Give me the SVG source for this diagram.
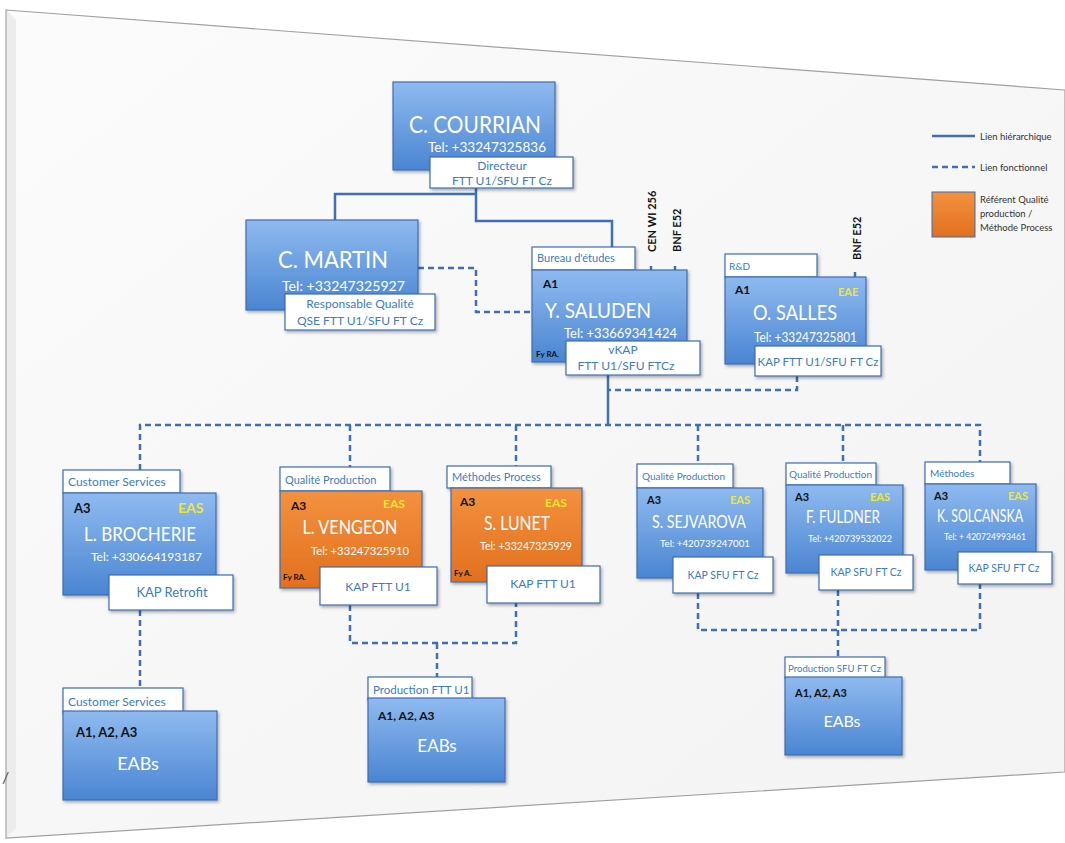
<svg xmlns="http://www.w3.org/2000/svg" width="1065" height="843" viewBox="0 0 1065 843">
<defs>
<linearGradient id="gBlue" x1="0" y1="0" x2="0" y2="1">
<stop offset="0" stop-color="#8fbaf0"/><stop offset="1" stop-color="#4a85d2"/>
</linearGradient>
<linearGradient id="gOrange" x1="0" y1="0" x2="0" y2="1">
<stop offset="0" stop-color="#f3913f"/><stop offset="1" stop-color="#e2701e"/>
</linearGradient>
<linearGradient id="gSlide" x1="0" y1="0" x2="1" y2="1">
<stop offset="0" stop-color="#fbfbfb"/><stop offset="1" stop-color="#f3f3f3"/>
</linearGradient>
<filter id="sh" x="-10%" y="-10%" width="125%" height="130%">
<feDropShadow dx="1.5" dy="2" stdDeviation="1.5" flood-color="#000" flood-opacity="0.3"/>
</filter>
<style>
text{font-family:Lato,"Open Sans","Liberation Sans",sans-serif}
.b{fill:url(#gBlue);stroke:#3d6db3;stroke-width:1.2;filter:url(#sh)}
.o{fill:url(#gOrange);stroke:#3d6db3;stroke-width:1.2;filter:url(#sh)}
.w{fill:#fff;stroke:#3d6db3;stroke-width:1.2;filter:url(#sh)}
.lbl{fill:#3b7cc4}
.nm{fill:#fff;text-anchor:middle}
.tel{fill:#fff}
.sub{fill:#3b7cc4;text-anchor:middle}
.lv{fill:#111;font-weight:bold}
.eas{fill:#f3e62c;font-weight:bold}
.rot{fill:#111;font-weight:bold;font-size:11px}
.solid{fill:none;stroke:#3e6fb8;stroke-width:2.5}
.dash{fill:none;stroke:#3e6fb8;stroke-width:2.5;stroke-dasharray:6 4}
.leg{fill:#333;font-size:9.5px}
</style>
</defs>
<rect width="1065" height="843" fill="#fff"/>
<polygon points="6,10 1065,90 1065,772 6,838" fill="url(#gSlide)" stroke="#a0a0a0" stroke-width="1.2"/>
<polygon points="7,11 16,20 16,828 7,837" fill="#ececec"/>
<text x="2" y="783" font-size="16" fill="#555">/</text>

<g id="connectors">
<path class="solid" d="M335,220 V194 H476"/>
<path class="solid" d="M476,188 V221 H612 V247"/>
<path class="solid" d="M608,375 V425"/>
<path class="solid" d="M651,266 V271 M675,266 V271 M855,272 V278"/>
<path class="dash" d="M418,268 H476 V312 H532"/>
<path class="dash" d="M797,376 V390 H608"/>
<path class="dash" d="M140,470 V425 H980 V463"/>
<path class="dash" d="M350,425 V467 M516,425 V466 M698,425 V464 M843,425 V464"/>
<path class="dash" d="M140,610 V688"/>
<path class="dash" d="M350,605 V643 H516 V603 M437,643 V677"/>
<path class="dash" d="M698,593 V630 H980 V584 M838,590 V657"/>
</g>

<g id="legend">
<line x1="932" y1="136" x2="975" y2="136" class="solid" stroke-width="2"/>
<text class="leg" x="980" y="140">Lien hiérarchique</text>
<line x1="932" y1="167" x2="975" y2="167" class="dash" stroke-width="2"/>
<text class="leg" x="980" y="171">Lien fonctionnel</text>
<rect x="932" y="192" width="43" height="45" fill="url(#gOrange)" stroke="#3d6db3" stroke-width="1"/>
<text class="leg" x="980" y="203" font-size="9">Référent Qualité</text>
<text class="leg" x="980" y="217" font-size="9">production /</text>
<text class="leg" x="980" y="231" font-size="9">Méthode Process</text>
</g>

<g id="courrian">
<rect class="b" x="393" y="82" width="162" height="88"/>
<text class="nm" x="475" y="133" font-size="24" textLength="132" lengthAdjust="spacingAndGlyphs">C. COURRIAN</text>
<text class="tel" x="428" y="152" font-size="14" textLength="118" lengthAdjust="spacingAndGlyphs">Tel: +33247325836</text>
<rect class="w" x="430" y="157" width="143" height="31"/>
<text class="sub" x="502" y="170" font-size="12">Directeur</text>
<text class="sub" x="502" y="185" font-size="12">FTT U1/SFU FT Cz</text>
</g>

<g id="martin">
<rect class="b" x="246" y="220" width="172" height="90"/>
<text class="nm" x="333" y="268" font-size="24" textLength="110" lengthAdjust="spacingAndGlyphs">C. MARTIN</text>
<text class="tel" x="282" y="291" font-size="14" textLength="123" lengthAdjust="spacingAndGlyphs">Tel: +33247325927</text>
<rect class="w" x="285" y="294" width="150" height="36"/>
<text class="sub" x="360" y="308" font-size="12">Responsable Qualité</text>
<text class="sub" x="360" y="325" font-size="12">QSE FTT U1/SFU FT Cz</text>
</g>

<g id="saluden">
<rect class="w" x="532" y="247" width="103" height="23"/>
<text class="lbl" x="537" y="262" font-size="11">Bureau d'études</text>
<rect class="b" x="532" y="270" width="155" height="92"/>
<text class="lv" x="543" y="288" font-size="12">A1</text>
<text class="nm" x="598" y="318" font-size="22" textLength="106" lengthAdjust="spacingAndGlyphs">Y. SALUDEN</text>
<text class="tel" x="564" y="338" font-size="13" textLength="113" lengthAdjust="spacingAndGlyphs">Tel: +33669341424</text>
<text class="lv" x="536" y="357" font-size="8">Fy RA.</text>
<rect class="w" x="566" y="341" width="134" height="34"/>
<text class="sub" x="623" y="354" font-size="12">vKAP</text>
<text class="sub" x="626" y="370" font-size="12">FTT U1/SFU FTCz</text>
<text class="rot" transform="translate(656,252) rotate(-90)">CEN WI 256</text>
<text class="rot" transform="translate(681,252) rotate(-90)">BNF E52</text>
</g>

<g id="salles">
<rect class="w" x="725" y="254" width="92" height="23"/>
<text class="lbl" x="729" y="270" font-size="10">R&amp;D</text>
<rect class="b" x="725" y="277" width="141" height="87"/>
<text class="lv" x="735" y="294" font-size="12">A1</text>
<text class="eas" x="838" y="296" font-size="11">EAE</text>
<text class="nm" x="795" y="320" font-size="22" textLength="84" lengthAdjust="spacingAndGlyphs">O. SALLES</text>
<text class="tel" x="754" y="342" font-size="13" textLength="103" lengthAdjust="spacingAndGlyphs">Tel: +33247325801</text>
<rect class="w" x="755" y="346" width="126" height="30"/>
<text class="sub" x="818" y="366" font-size="11.5">KAP FTT U1/SFU FT Cz</text>
<text class="rot" transform="translate(861,260) rotate(-90)">BNF E52</text>
</g>

<g id="brocherie">
<rect class="w" x="63" y="470" width="117" height="23"/>
<text class="lbl" x="68" y="486" font-size="12">Customer Services</text>
<rect class="b" x="63" y="493" width="153" height="102"/>
<text class="lv" x="74" y="513" font-size="13">A3</text>
<text class="eas" x="178" y="513" font-size="14">EAS</text>
<text class="nm" x="140" y="541" font-size="20" textLength="112" lengthAdjust="spacingAndGlyphs">L. BROCHERIE</text>
<text class="tel" x="91" y="561" font-size="12" textLength="111" lengthAdjust="spacingAndGlyphs">Tel: +330664193187</text>
<rect class="w" x="109" y="575" width="124" height="35"/>
<text class="sub" x="172" y="597" font-size="13">KAP Retrofit</text>
</g>

<g id="vengeon">
<rect class="w" x="280" y="467" width="110" height="24"/>
<text class="lbl" x="285" y="484" font-size="11">Qualité Production</text>
<rect class="o" x="280" y="491" width="142" height="97"/>
<text class="lv" x="291" y="510" font-size="12">A3</text>
<text class="eas" x="383" y="508" font-size="12">EAS</text>
<text class="nm" x="350" y="534" font-size="20" textLength="95" lengthAdjust="spacingAndGlyphs">L. VENGEON</text>
<text class="tel" x="311" y="555" font-size="11" textLength="98" lengthAdjust="spacingAndGlyphs">Tel: +33247325910</text>
<text class="lv" x="283" y="580" font-size="8">Fy RA.</text>
<rect class="w" x="320" y="567" width="117" height="38"/>
<text class="sub" x="378" y="591" font-size="12">KAP FTT U1</text>
</g>

<g id="lunet">
<rect class="w" x="447" y="466" width="104" height="22"/>
<text class="lbl" x="452" y="481" font-size="11">Méthodes Process</text>
<rect class="o" x="451" y="488" width="131" height="94"/>
<text class="lv" x="460" y="506" font-size="12">A3</text>
<text class="eas" x="545" y="507" font-size="12">EAS</text>
<text class="nm" x="517" y="530" font-size="20" textLength="66" lengthAdjust="spacingAndGlyphs">S. LUNET</text>
<text class="tel" x="480" y="550" font-size="11" textLength="92" lengthAdjust="spacingAndGlyphs">Tel: +33247325929</text>
<text class="lv" x="454" y="576" font-size="8">Fy A.</text>
<rect class="w" x="487" y="566" width="113" height="37"/>
<text class="sub" x="543" y="588" font-size="12">KAP FTT U1</text>
</g>

<g id="sejvarova">
<rect class="w" x="637" y="464" width="96" height="24"/>
<text class="lbl" x="642" y="480" font-size="10">Qualité Production</text>
<rect class="b" x="637" y="488" width="126" height="90"/>
<text class="lv" x="647" y="504" font-size="11">A3</text>
<text class="eas" x="730" y="504" font-size="11">EAS</text>
<text class="nm" x="699" y="528" font-size="18" textLength="94" lengthAdjust="spacingAndGlyphs">S. SEJVAROVA</text>
<text class="tel" x="660" y="547" font-size="10" textLength="90" lengthAdjust="spacingAndGlyphs">Tel: +420739247001</text>
<rect class="w" x="673" y="557" width="100" height="36"/>
<text class="sub" x="723" y="579" font-size="10.5">KAP SFU FT Cz</text>
</g>

<g id="fuldner">
<rect class="w" x="786" y="463" width="90" height="22"/>
<text class="lbl" x="789" y="478" font-size="10">Qualité Production</text>
<rect class="b" x="786" y="485" width="117" height="88"/>
<text class="lv" x="795" y="501" font-size="11">A3</text>
<text class="eas" x="870" y="501" font-size="11">EAS</text>
<text class="nm" x="843" y="523" font-size="18" textLength="74" lengthAdjust="spacingAndGlyphs">F. FULDNER</text>
<text class="tel" x="808" y="542" font-size="10" textLength="84" lengthAdjust="spacingAndGlyphs">Tel: +420739532022</text>
<rect class="w" x="819" y="555" width="94" height="35"/>
<text class="sub" x="866" y="576" font-size="10.5">KAP SFU FT Cz</text>
</g>

<g id="solcanska">
<rect class="w" x="925" y="462" width="85" height="22"/>
<text class="lbl" x="930" y="477" font-size="10">Méthodes</text>
<rect class="b" x="925" y="484" width="111" height="86"/>
<text class="lv" x="934" y="500" font-size="11">A3</text>
<text class="eas" x="1008" y="500" font-size="11">EAS</text>
<text class="nm" x="980" y="522" font-size="17" textLength="86" lengthAdjust="spacingAndGlyphs">K. SOLCANSKA</text>
<text class="tel" x="944" y="540" font-size="10" textLength="82" lengthAdjust="spacingAndGlyphs">Tel: + 420724993461</text>
<rect class="w" x="958" y="552" width="94" height="32"/>
<text class="sub" x="1004" y="572" font-size="10.5">KAP  SFU FT Cz</text>
</g>

<g id="eabs-cs">
<rect class="w" x="63" y="688" width="120" height="25"/>
<text class="lbl" x="68" y="706" font-size="12">Customer Services</text>
<rect class="b" x="63" y="711" width="154" height="89"/>
<text class="lv" x="76" y="737" font-size="13">A1, A2, A3</text>
<text class="nm" x="138" y="770" font-size="18">EABs</text>
</g>

<g id="eabs-ftt">
<rect class="w" x="368" y="677" width="104" height="23"/>
<text class="lbl" x="373" y="694" font-size="11.5">Production FTT U1</text>
<rect class="b" x="368" y="698" width="137" height="84"/>
<text class="lv" x="378" y="720" font-size="12">A1, A2, A3</text>
<text class="nm" x="437" y="752" font-size="17">EABs</text>
</g>

<g id="eabs-sfu">
<rect class="w" x="785" y="657" width="100" height="21"/>
<text class="lbl" x="788" y="672" font-size="10" textLength="93" lengthAdjust="spacingAndGlyphs">Production SFU FT Cz</text>
<rect class="b" x="785" y="677" width="117" height="78"/>
<text class="lv" x="795" y="697" font-size="11">A1, A2, A3</text>
<text class="nm" x="842" y="727" font-size="16">EABs</text>
</g>
</svg>
